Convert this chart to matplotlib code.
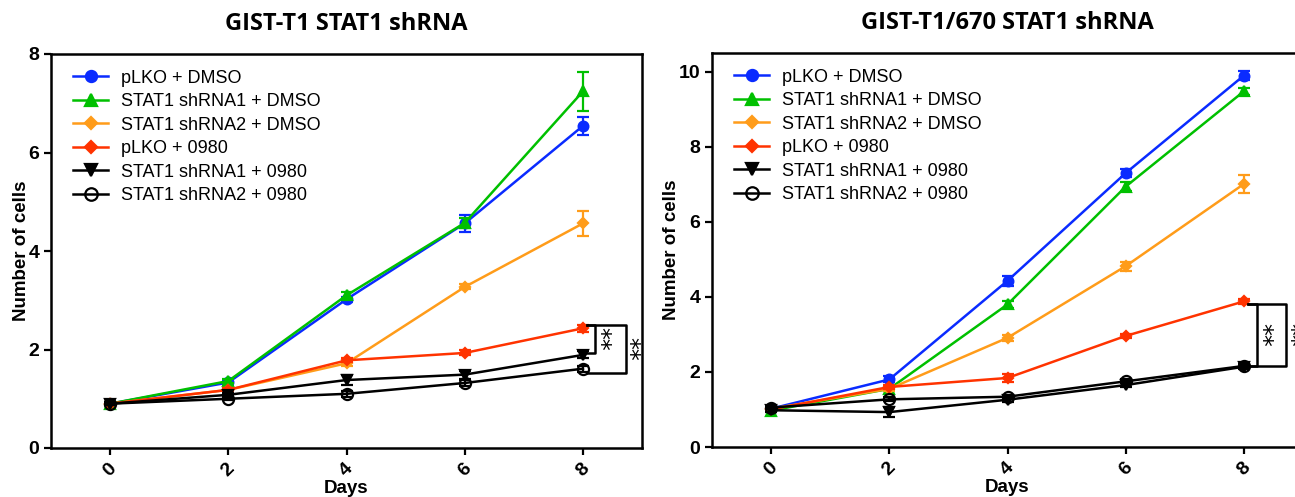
import numpy as np
import matplotlib; matplotlib.use("Agg")
import matplotlib.pyplot as plt
from matplotlib.lines import Line2D
plt.rcParams['font.family'] = ['Liberation Sans', 'DejaVu Sans']

days = [0, 2, 4, 6, 8]
labels = ['pLKO + DMSO', 'STAT1 shRNA1 + DMSO', 'STAT1 shRNA2 + DMSO',
          'pLKO + 0980', 'STAT1 shRNA1 + 0980', 'STAT1 shRNA2 + 0980']

# GIST-T1
t1_mean = [[0.90, 1.33, 3.02, 4.56, 6.54],
           [0.90, 1.36, 3.10, 4.57, 7.24],
           [0.90, 1.18, 1.72, 3.27, 4.56],
           [0.90, 1.18, 1.78, 1.93, 2.43],
           [0.90, 1.08, 1.38, 1.49, 1.89],
           [0.90, 1.00, 1.10, 1.32, 1.61]]
t1_err = [[0.03, 0.05, 0.05, 0.17, 0.18],
          [0.03, 0.05, 0.06, 0.10, 0.40],
          [0.03, 0.03, 0.05, 0.05, 0.25],
          [0.03, 0.03, 0.04, 0.05, 0.07],
          [0.03, 0.03, 0.10, 0.08, 0.07],
          [0.03, 0.03, 0.06, 0.06, 0.06]]

# GIST-T1/670
t670_mean = [[1.02, 1.80, 4.43, 7.30, 9.90],
             [0.97, 1.55, 3.80, 6.94, 9.48],
             [1.02, 1.55, 2.91, 4.82, 7.01],
             [1.00, 1.60, 1.84, 2.96, 3.88],
             [0.98, 0.93, 1.26, 1.65, 2.14],
             [1.05, 1.27, 1.34, 1.75, 2.16]]
t670_err = [[0.05, 0.08, 0.13, 0.10, 0.12],
            [0.05, 0.05, 0.10, 0.12, 0.10],
            [0.05, 0.05, 0.08, 0.12, 0.25],
            [0.05, 0.05, 0.10, 0.05, 0.07],
            [0.05, 0.13, 0.05, 0.05, 0.05],
            [0.05, 0.05, 0.05, 0.05, 0.05]]

colors = ['#0a2bff', '#00c000', '#ff9c1a', '#ff3300', '#000000', '#000000']
markers = ['o', '^', 'D', 'D', 'v', 'o']
msizes = [7, 7, 5.5, 5.5, 7, 8]

# significance brackets
t1_sig = dict(top=2.50, bottoms=[1.93, 1.52])
t670_sig = dict(top=3.82, bottoms=[2.16, 2.16])

fig = plt.figure(figsize=(12.95, 4.97), dpi=100)
ax1 = fig.add_axes([51/1295, 1-448/497, 591/1295, 394/497])
ax2 = fig.add_axes([712/1295, 1-447/497, 591/1295, 394/497])

def panel(ax, means, errs, ymax, yticks, title, sig, vx, sx):
    handles = []
    for i in range(6):
        mfc = 'none' if i == 5 else colors[i]
        ax.errorbar(days, means[i], yerr=errs[i], color=colors[i], marker=markers[i],
                    ms=msizes[i], mfc=mfc, mew=1.6, lw=1.8, capsize=4,
                    elinewidth=1.6, capthick=1.6, clip_on=False, zorder=3+i)
        handles.append(Line2D([], [], color=colors[i], marker=markers[i], ms=msizes[i]+1,
                              mfc=mfc, mew=1.6, lw=1.8, label=labels[i]))
    ax.set_xlim(-1, 9); ax.set_ylim(0, ymax)
    ax.set_xticks(days); ax.set_yticks(yticks)
    ax.set_xticklabels([str(d) for d in days], rotation=45, fontweight='bold', fontsize=14)
    ax.set_yticklabels([str(t) for t in yticks], fontweight='bold', fontsize=14)
    for s in ax.spines.values(): s.set_linewidth(1.8)
    ax.tick_params(width=1.6, length=5)
    ax.set_xlabel('Days', fontweight='bold', fontsize=13.5, labelpad=0)
    ax.set_ylabel('Number of cells', fontweight='bold', fontsize=13.5, labelpad=-1)
    ax.set_title(title, fontweight='bold', fontsize=17, pad=17, family=['Open Sans', 'DejaVu Sans'])
    ax.legend(handles=handles, loc='upper left', bbox_to_anchor=(0.038, 0.96), frameon=False,
              fontsize=13, borderaxespad=0, borderpad=0, handlelength=1.9,
              handletextpad=0.75, labelspacing=0.36)
    top = sig['top']
    for b, x, s in zip(sig['bottoms'], vx, sx):
        ax.plot([8.07, x, x, 8.07], [top, top, b, b], color='k', lw=1.8, clip_on=False, zorder=10)
        ax.text(s, (top+b)/2, '**', rotation=270, ha='center', va='center', fontsize=17,
                family='DejaVu Sans', clip_on=False)

panel(ax1, t1_mean, t1_err, 8, [0, 2, 4, 6, 8], 'GIST-T1 STAT1 shRNA', t1_sig,
      [8.2, 8.73], [8.27, 8.77])
panel(ax2, t670_mean, t670_err, 10.5, [0, 2, 4, 6, 8, 10], 'GIST-T1/670 STAT1 shRNA', t670_sig,
      [8.22, 8.71], [8.3, 8.76])

fig.savefig('out.png', dpi=100)
